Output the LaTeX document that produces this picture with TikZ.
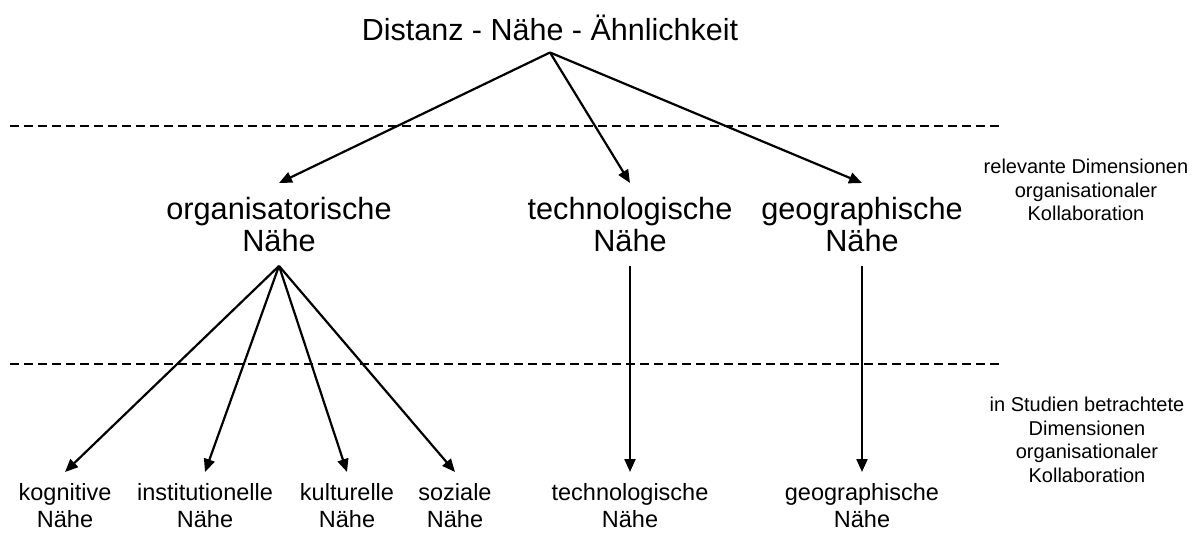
\documentclass[tikz,border=0pt]{standalone}
\usepackage{fontspec}
\setmainfont{Liberation Sans}
\usetikzlibrary{arrows.meta}
\begin{document}
\begin{tikzpicture}[x=1pt,y=-1pt,
  big/.style={font=\fontsize{30.5}{33}\selectfont, align=center, inner xsep=0pt},
  lvl/.style={font=\fontsize{30.7}{32}\selectfont, align=center, inner xsep=0pt, inner ysep=14pt, anchor=north},
  leaf/.style={font=\fontsize{23.5}{27}\selectfont, align=center, inner xsep=0pt, inner ysep=11pt, anchor=north},
  side/.style={font=\fontsize{20}{23.5}\selectfont, align=center, inner sep=0pt},
  arr/.style={line width=2.2pt, -{Triangle[length=13pt,width=11pt]}},
  sep/.style={line width=2pt, dash pattern=on 9pt off 5pt}
]
\useasboundingbox (0,0) rectangle (1196,533);
\node[big, anchor=base, inner ysep=12pt] (title) at (550,40) {Distanz - Nähe - Ähnlichkeit};

\node[lvl] (org) at (279,183) {organisatorische\\Nähe};
\node[lvl] (tech) at (630,183) {technologische\\Nähe};
\node[lvl] (geo) at (862,183) {geographische\\Nähe};

\node[leaf] (kog) at (65,472) {kognitive\\Nähe};
\node[leaf] (inst) at (205,472) {institutionelle\\Nähe};
\node[leaf] (kult) at (347,472) {kulturelle\\Nähe};
\node[leaf] (soz) at (455,472) {soziale\\Nähe};
\node[leaf] (tech2) at (630,472) {technologische\\Nähe};
\node[leaf] (geo2) at (862,472) {geographische\\Nähe};

\node[side] (s1) at (1086,190) {relevante Dimensionen\\organisationaler\\Kollaboration};
\node[side] (s2) at (1087,440) {in Studien betrachtete\\Dimensionen\\organisationaler\\Kollaboration};

\draw[sep] (10,126) -- (1003,126);
\draw[sep] (10,364) -- (1003,364);

\draw[arr] (title.south) -- (org.north);
\draw[arr] (title.south) -- (tech.north);
\draw[arr] (title.south) -- (geo.north);

\draw[arr] (org.south) -- (kog.north);
\draw[arr] (org.south) -- (inst.north);
\draw[arr] (org.south) -- (kult.north);
\draw[arr] (org.south) -- (soz.north);
\draw[arr] (tech.south) -- (tech2.north);
\draw[arr] (geo.south) -- (geo2.north);
\end{tikzpicture}
\end{document}
